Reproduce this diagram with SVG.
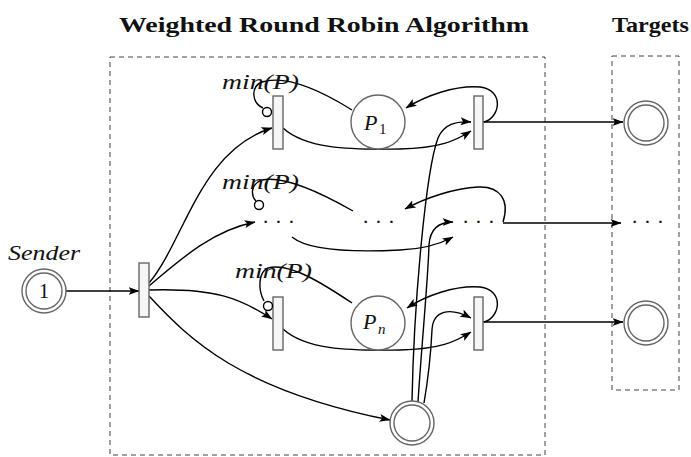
<svg xmlns="http://www.w3.org/2000/svg" width="691" height="457" viewBox="0 0 691 457">
<style>
.box{fill:none;stroke:#444;stroke-width:1;stroke-dasharray:5 4}
.tr{fill:#f6f6f6;stroke:#666;stroke-width:1.4}
.pl{fill:#fff;stroke:#666;stroke-width:1.4}
.e{fill:none;stroke:#000;stroke-width:1.4}
.a{marker-end:url(#ah)}
.inh{fill:#fff;stroke:#000;stroke-width:1.4}
.t{font-family:"Liberation Serif",serif;fill:#111}
.it{font-family:"Liberation Serif",serif;font-style:italic;fill:#111}
.b{font-family:"Liberation Serif",serif;font-weight:bold;fill:#111}
</style>
<defs>
<marker id="ah" viewBox="0 0 11 8" refX="10.5" refY="4" markerWidth="11" markerHeight="8" orient="auto" markerUnits="userSpaceOnUse">
<path d="M0,0 L11,4 L0,8 L2.5,4 z" fill="#000"/>
</marker>
</defs>
<text class="b" x="119" y="32" font-size="22" textLength="410" lengthAdjust="spacingAndGlyphs">Weighted Round Robin Algorithm</text>
<text class="b" x="612" y="32" font-size="22" textLength="77" lengthAdjust="spacingAndGlyphs">Targets</text>
<rect class="box" x="110" y="57" width="435" height="398"/>
<rect class="box" x="612" y="56" width="67" height="334"/>
<g id="connectors">
<path class="e a" d="M65,291 L139,291"/>
<path class="e a" d="M149,283 C185,240 200,150 272,128"/>
<path class="e a" d="M149,286 C185,255 215,230 255,222"/>
<path class="e a" d="M149,290 C215,288 240,298 272,319"/>
<path class="e a" d="M149,296 C190,340 240,390 390,420"/>
<path class="e" d="M352,110 C320,90 285,75 262,82 C250,87 252,103 263,108"/>
<path class="e" d="M353,211 C325,195 285,175 262,180 C250,184 251,196 256,201"/>
<path class="e" d="M352,303 C325,285 290,262 268,268 C258,272 258,290 264,301"/>
<path class="e a" d="M283,128 C305,148 345,150 400,149 C440,148 455,141 471,131"/>
<path class="e a" d="M292,237 C310,252 360,252 400,250 C425,249 440,244 453,237"/>
<path class="e a" d="M283,329 C305,349 345,351 400,350 C440,349 455,342 471,332"/>
<path class="e a" d="M484,122 C500,118 505,90 480,87 C455,85 425,96 406,108"/>
<path class="e a" d="M503,222 C510,200 500,186 478,187 C455,188 425,198 405,209"/>
<path class="e a" d="M484,322 C500,318 505,290 480,287 C455,285 425,296 407,308"/>
<path class="e a" d="M483,122 L623,122"/>
<path class="e a" d="M503,223 L621,223"/>
<path class="e a" d="M483,322 L623,322"/>
<path class="e a" d="M412,401 C414,300 426,170 438,138 C444,124 456,121 471,122"/>
<path class="e a" d="M418,402 C422,340 428,280 429,245 C430,228 440,222 453,222"/>
<path class="e a" d="M424,403 C428,380 431,350 432,330 C433,310 450,307 471,318"/>
</g>
<g id="sender">
<circle class="pl" cx="44" cy="291" r="22"/>
<circle class="pl" cx="44" cy="291" r="18"/>
<text class="t" x="44" y="298" font-size="21" text-anchor="middle">1</text>
<text class="it" x="8" y="260" font-size="21" textLength="72" lengthAdjust="spacingAndGlyphs">Sender</text>
</g>
<g id="t_sender"><rect class="tr" x="139" y="263" width="10" height="54"/></g>
<g id="t1"><rect class="tr" x="273" y="96" width="10" height="53"/>
<circle class="inh" cx="267" cy="112" r="4.5"/>
<text class="it" x="222" y="89" font-size="21" textLength="77" lengthAdjust="spacingAndGlyphs">min(P)</text></g>
<g id="tmid">
<text class="t" x="262" y="229" font-size="22">· · ·</text>
<circle class="inh" cx="259" cy="205" r="4.5"/>
<text class="it" x="222" y="189" font-size="21" textLength="77" lengthAdjust="spacingAndGlyphs">min(P)</text></g>
<g id="tn"><rect class="tr" x="273" y="297" width="10" height="53"/>
<circle class="inh" cx="268" cy="306" r="4.5"/>
<text class="it" x="235" y="278" font-size="21" textLength="77" lengthAdjust="spacingAndGlyphs">min(P)</text></g>
<g id="p1"><circle class="pl" cx="378" cy="122" r="27"/>
<text class="it" x="364" y="130" font-size="22">P</text><text class="t" x="379" y="134" font-size="15">1</text></g>
<g id="pmid"><text class="t" x="362" y="229" font-size="22">· · ·</text></g>
<g id="pn"><circle class="pl" cx="378" cy="323" r="27"/>
<text class="it" x="363" y="329" font-size="22">P</text><text class="it" x="378" y="334" font-size="15">n</text></g>
<g id="r1"><rect class="tr" x="474" y="96" width="9" height="53"/></g>
<g id="rmid"><text class="t" x="462" y="229" font-size="22">· · ·</text></g>
<g id="rn"><rect class="tr" x="474" y="297" width="9" height="53"/></g>
<g id="counter"><circle class="pl" cx="412" cy="423" r="22"/><circle class="pl" cx="412" cy="423" r="18"/></g>
<g id="target1"><circle class="pl" cx="646" cy="123" r="22"/><circle class="pl" cx="646" cy="123" r="18"/></g>
<g id="targetmid"><text class="t" x="631" y="229" font-size="22">· · ·</text></g>
<g id="target2"><circle class="pl" cx="646" cy="323" r="22"/><circle class="pl" cx="646" cy="323" r="18"/></g>
</svg>
